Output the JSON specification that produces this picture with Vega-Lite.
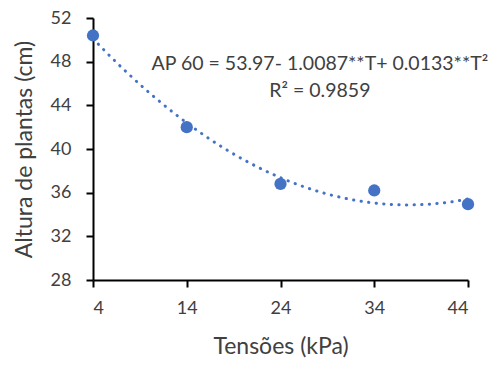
{
  "$schema": "https://vega.github.io/schema/vega-lite/v6.json",
  "autosize": {"type": "none"},
  "width": 375,
  "height": 262,
  "padding": {"left": 93, "top": 18, "right": 27, "bottom": 87},
  "background": "white",
  "config": {
    "view": {"stroke": null},
    "font": "Lato",
    "axis": {
      "grid": false,
      "domainColor": "#000000",
      "domainWidth": 2,
      "tickColor": "#000000",
      "tickWidth": 2,
      "tickSize": 7,
      "labelFont": "Lato",
      "labelFontSize": 18,
      "labelColor": "#404040",
      "titleFont": "Lato",
      "titleFontSize": 23,
      "titleFontWeight": "normal",
      "titleColor": "#404040"
    }
  },
  "datasets": {
    "pts": [
      {"T": 4, "AP": 50.4},
      {"T": 14, "AP": 42.0},
      {"T": 24, "AP": 36.8},
      {"T": 34, "AP": 36.2},
      {"T": 44, "AP": 34.95}
    ],
    "notes": [
      {"T": 28.2, "AP": 47.75, "label": "AP 60 = 53.97- 1.0087**T+ 0.0133**T²"},
      {"T": 28.2, "AP": 45.3, "label": "R² = 0.9859"}
    ]
  },
  "layer": [
    {
      "data": {"name": "pts"},
      "transform": [
        {"regression": "AP", "on": "T", "method": "poly", "order": 2, "extent": [4, 44]}
      ],
      "mark": {"type": "line", "color": "#4472C4", "strokeWidth": 3, "strokeDash": [0.3, 7.3], "strokeCap": "round"},
      "encoding": {
        "x": {"field": "T", "type": "quantitative"},
        "y": {"field": "AP", "type": "quantitative"}
      }
    },
    {
      "data": {"name": "pts"},
      "mark": {"type": "circle", "color": "#4472C4", "opacity": 1, "size": 150},
      "encoding": {
        "x": {
          "field": "T",
          "type": "quantitative",
          "scale": {"domain": [4, 44], "nice": false, "zero": false},
          "axis": {"values": [4, 14, 24, 34, 44], "title": "Tensões (kPa)", "labelPadding": 12, "titlePadding": 18}
        },
        "y": {
          "field": "AP",
          "type": "quantitative",
          "scale": {"domain": [28, 52], "nice": false, "zero": false},
          "axis": {"values": [28, 32, 36, 40, 44, 48, 52], "title": "Altura de plantas (cm)", "labelPadding": 15, "titlePadding": 14}
        }
      }
    },
    {
      "data": {"name": "notes"},
      "mark": {"type": "text", "font": "Lato", "fontSize": 19.5, "color": "#404040", "align": "center", "baseline": "middle"},
      "encoding": {
        "x": {"field": "T", "type": "quantitative"},
        "y": {"field": "AP", "type": "quantitative"},
        "text": {"field": "label", "type": "nominal"}
      }
    }
  ]
}
